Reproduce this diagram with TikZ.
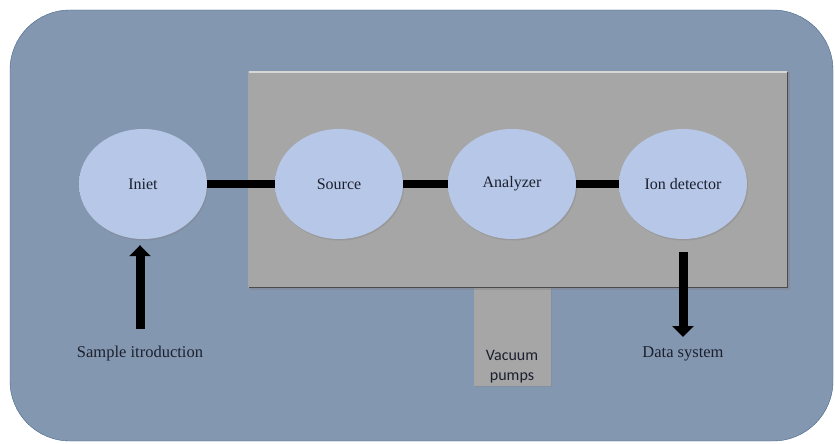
\documentclass[tikz,border=0pt]{standalone}
\usepackage{fontspec}
\setmainfont{Liberation Serif}
\newfontfamily\pumpfont{Carlito}
\usetikzlibrary{shapes.geometric,arrows.meta,shadows}

\definecolor{panelblue}{RGB}{132,151,176}
\definecolor{paneledge}{RGB}{68,100,140}
\definecolor{boxgray}{RGB}{166,166,166}
\definecolor{ballin}{RGB}{182,199,231}
\definecolor{ballout}{RGB}{150,166,196}
\definecolor{inktext}{RGB}{28,32,46}

% flat face with a darker rim for the stages
\pgfdeclareradialshading{stagerim}{\pgfpoint{0bp}{0bp}}{%
    color(0bp)=(ballin); color(40bp)=(ballin); color(47bp)=(ballin!85!ballout); color(50bp)=(ballout)}

\begin{document}
\begin{tikzpicture}[x=1pt,y=-1pt,
    stage/.style={ellipse, minimum width=128pt, minimum height=110pt,
        shading=stagerim, text=inktext,
        drop shadow={opacity=0.35, shadow xshift=1pt, shadow yshift=-1.5pt},
        font=\fontsize{16}{18}\selectfont},
    link/.style={line width=8pt},
    flow/.style={line width=9pt, -{Triangle[width=21pt,length=11pt]}},
    caption/.style={text=inktext, font=\fontsize{16.5}{19}\selectfont}]
    \useasboundingbox (0,0) rectangle (835,444);

    % outer panel
    \draw[fill=panelblue, draw=paneledge, rounded corners=60pt] (10,10) rectangle (833,441);

    % vacuum pumps tab below the chamber
    \fill[boxgray, drop shadow={opacity=0.3, shadow xshift=1pt, shadow yshift=-1pt}] (474,280) rectangle (551,386);
    \node[font=\pumpfont\fontsize{16}{20}\selectfont, text=inktext, align=center] (pumps) at (512,367) {Vacuum\\pumps};

    % vacuum chamber
    \fill[boxgray, drop shadow={opacity=0.35, shadow xshift=1.5pt, shadow yshift=-1.5pt}] (248,71) rectangle (788,288);
    \draw[white!55!boxgray, line width=1.2pt] (249,72) -- (787,72);
    \draw[black!55!boxgray, line width=1pt] (787,72) -- (787,287) -- (249,287);

    % stages
    \node[stage] (inlet) at (143,184) {Iniet};
    \node[stage] (source) at (339,184) {Source};
    \node[stage] (analyzer) at (512,184) {Analyzer};
    \node[stage] (detector) at (683,184) {Ion detector};

    \draw[link] (inlet) -- (source);
    \draw[link] (source) -- (analyzer);
    \draw[link] (analyzer) -- (detector);

    % in and out
    \coordinate (sampin) at (140,329);
    \coordinate (dataout) at (683,337);
    \draw[flow, shorten >=6pt] (sampin) -- (sampin |- inlet.south);
    \draw[flow, shorten <=13pt] (detector.south) -- (dataout);

    \node[caption] (sample) at (140,354) {Sample itroduction};
    \node[caption] (data) at (683,354) {Data system};
\end{tikzpicture}
\end{document}
